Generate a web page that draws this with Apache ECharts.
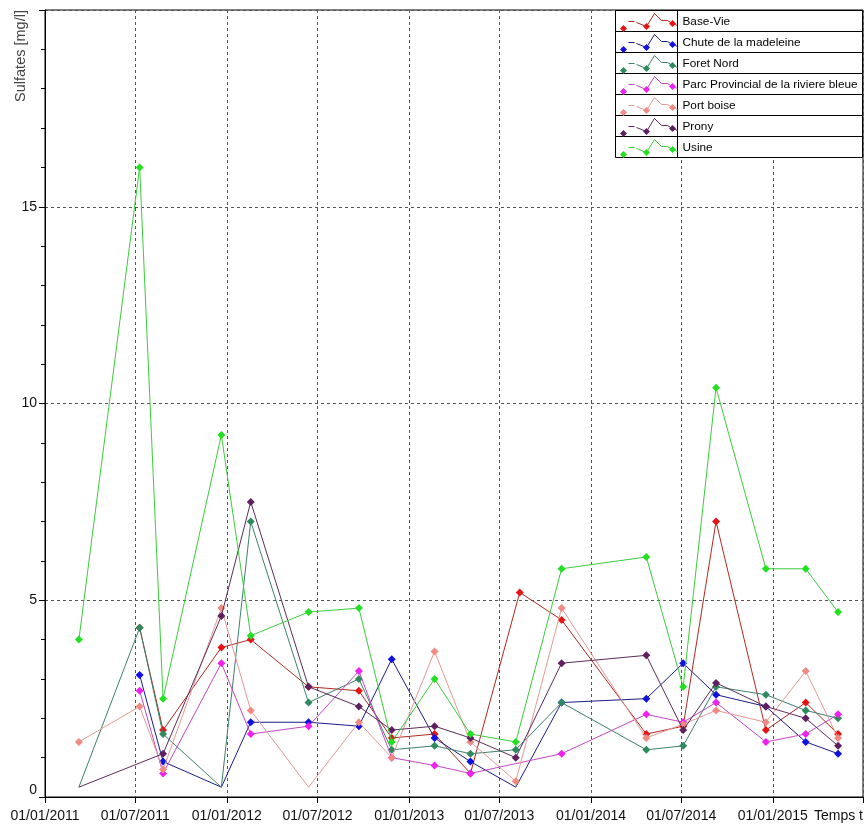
<!DOCTYPE html>
<html>
<head>
<meta charset="utf-8">
<title>Sulfates</title>
<script src="https://cdn.jsdelivr.net/npm/echarts@6/dist/echarts.min.js"></script>
<style>
  html, body { margin: 0; padding: 0; background: #fff; }
  #chart { width: 868px; height: 830px; }
</style>
</head>
<body>
<div id="chart"></div>
<script>
// Sampling dates (shared by all stations; a null value means no sample that day)
const dates = [
  '2011-03-10', '2011-07-10', '2011-08-26', '2011-12-21', '2012-02-18',
  '2012-06-13', '2012-09-22', '2012-11-27', '2013-02-21', '2013-05-04',
  '2013-08-03', '2013-08-11', '2013-11-03', '2014-04-22', '2014-07-05',
  '2014-09-09', '2014-12-18', '2015-03-08', '2015-05-12'
];

// Sulfate concentrations [mg/l] per station
const baseVie   = [null, 4.3, 1.7, 3.8, 4.0, 2.8, 2.7, 1.5, 1.6, 0.6, null, 5.2, 4.5, 1.6, 1.8, 7.0, 1.7, 2.4, 1.6];
const chute     = [null, 3.1, 0.9, 0.25, 1.9, 1.9, 1.8, 3.5, 1.5, 0.9, 0.25, null, 2.4, 2.5, 3.4, 2.6, 2.3, 1.4, 1.1];
const foretNord = [0.25, 4.3, 1.6, 0.25, 7.0, 2.4, 3.0, 1.2, 1.3, 1.1, 1.2, null, 2.4, 1.2, 1.3, 2.8, 2.6, 2.2, 2.0];
const parc      = [null, 2.7, 0.6, 3.4, 1.6, 1.8, 3.2, 1.0, 0.8, 0.6, null, null, 1.1, 2.1, 1.9, 2.4, 1.4, 1.6, 2.1];
const portBoise = [1.4, 2.3, 0.7, 4.8, 2.2, 0.25, 1.9, 1.0, 3.7, 1.4, 0.4, null, 4.8, 1.5, 1.85, 2.2, 1.9, 3.2, 1.5];
const prony     = [0.25, null, 1.1, 4.6, 7.5, 2.8, 2.3, 1.7, 1.8, 1.5, 1.0, null, 3.4, 3.6, 1.7, 2.9, 2.3, 2.0, 1.3];
const usine     = [4.0, 16.0, 2.5, 9.2, 4.1, 4.7, 4.8, 1.4, 3.0, 1.6, 1.4, null, 5.8, 6.1, 2.8, 10.4, 5.8, 5.8, 4.7];

const seriesNames = ['Base-Vie', 'Chute de la madeleine', 'Foret Nord',
  'Parc Provincial de la riviere bleue', 'Port boise', 'Prony', 'Usine'];
const seriesValues = [baseVie, chute, foretNord, parc, portBoise, prony, usine];

// Half-year ticks of the date axis
const xTicks = ['2011-01-01', '2011-07-01', '2012-01-01', '2012-07-01', '2013-01-01',
  '2013-07-01', '2014-01-01', '2014-07-01', '2015-01-01', '2015-07-01'];
const xAxisName = 'Temps t';
const yAxisName = 'Sulfates [mg/l]';

const lineColors   = ['#b02a20', '#1c1c8a', '#3f7f6c', '#c248c8', '#e49a94', '#5c2c5c', '#3ccc3c'];
const markerColors = ['#e81414', '#1010e0', '#2e8a5c', '#f020f0', '#f08a82', '#602060', '#20e020'];

const FONT = '"Liberation Sans", Arial, sans-serif';

// Axis text uses a narrow face when one is installed
function fontAvailable(name) {
  const ctx = document.createElement('canvas').getContext('2d');
  const sample = '01/07/2011 Temps t';
  ctx.font = '40px monospace';
  const w0 = ctx.measureText(sample).width;
  ctx.font = '40px "' + name + '", monospace';
  return ctx.measureText(sample).width !== w0;
}
const narrow = fontAvailable('Liberation Sans Narrow');
const AXIS_FONT = narrow ? '"Liberation Sans Narrow", "Liberation Sans", sans-serif' : FONT;
const AXIS_SIZE = narrow ? 16 : 14;
const TITLE_SIZE = narrow ? 17 : 14.5;

function ts(s) {
  const p = s.split('-').map(Number);
  return Date.UTC(p[0], p[1] - 1, p[2]);
}
function pad(n) { return n < 10 ? '0' + n : String(n); }
function fmtDate(v) {
  const d = new Date(v);
  return pad(d.getUTCDate()) + '/' + pad(d.getUTCMonth() + 1) + '/' + d.getUTCFullYear();
}

const tickValues = xTicks.map(ts);
const xMin = tickValues[0];
const xMax = tickValues[tickValues.length - 1];

const series = seriesNames.map(function (name, i) {
  const data = [];
  seriesValues[i].forEach(function (v, k) {
    if (v !== null) data.push([ts(dates[k]), v]);
  });
  return {
    name: name,
    type: 'line',
    data: data,
    symbol: function (val) { return val[1] < 0.3 ? 'none' : 'diamond'; },
    symbolSize: 8,
    lineStyle: { color: lineColors[i], width: 1 },
    itemStyle: { color: markerColors[i] },
    emphasis: { disabled: true },
    z: 2 + i
  };
});

// Legend drawn as a bordered table in the top-right corner of the plot
const legendLeft = 615.5, legendTop = 10.5, rowH = 21, iconW = 62, legendW = 247;
const legendEls = [{
  type: 'rect',
  shape: { x: legendLeft, y: legendTop, width: legendW, height: rowH * seriesNames.length },
  style: { fill: '#fff', stroke: '#000', lineWidth: 1 },
  z: 100
}, {
  type: 'line',
  shape: { x1: legendLeft + iconW, y1: legendTop, x2: legendLeft + iconW, y2: legendTop + rowH * seriesNames.length },
  style: { stroke: '#000', lineWidth: 1 },
  z: 101
}];
function diamond(cx, cy, r, color) {
  return {
    type: 'polygon',
    shape: { points: [[cx, cy - r], [cx + r, cy], [cx, cy + r], [cx - r, cy]] },
    style: { fill: color },
    z: 103
  };
}
seriesNames.forEach(function (name, i) {
  const top = legendTop + i * rowH;
  const L = legendLeft;
  if (i > 0) {
    legendEls.push({
      type: 'line',
      shape: { x1: L, y1: top, x2: L + legendW, y2: top },
      style: { stroke: '#000', lineWidth: 1 },
      z: 101
    });
  }
  legendEls.push({
    type: 'polyline',
    shape: { points: [[L + 13, top + 11], [L + 19, top + 11]] },
    style: { stroke: lineColors[i], lineWidth: 1, fill: null },
    z: 102
  });
  legendEls.push({
    type: 'polyline',
    shape: { points: [[L + 21, top + 12], [L + 31, top + 16], [L + 39, top + 3], [L + 46, top + 10],
      [L + 52, top + 10], [L + 57, top + 13], [L + 62, top + 15]] },
    style: { stroke: lineColors[i], lineWidth: 1, fill: null },
    z: 102
  });
  legendEls.push(diamond(L + 8, top + 18, 3.5, markerColors[i]));
  legendEls.push(diamond(L + 31, top + 16, 3.5, markerColors[i]));
  legendEls.push(diamond(L + 57, top + 13, 3.5, markerColors[i]));
  legendEls.push({
    type: 'text',
    x: L + iconW + 5,
    y: top + rowH / 2 + 0.5,
    style: { text: name, fill: '#000', font: '11.8px ' + FONT, align: 'left', verticalAlign: 'middle' },
    z: 103
  });
});

// Vertical y-axis title at the top left
const yTitle = {
  type: 'text',
  x: 21,
  y: 56,
  rotation: Math.PI / 2,
  style: { text: yAxisName, fill: '#444', font: TITLE_SIZE + 'px ' + AXIS_FONT, align: 'center', verticalAlign: 'middle' },
  z: 100
};

const option = {
  animation: false,
  backgroundColor: '#fff',
  grid: {
    left: 45, top: 10, right: 5, bottom: 33,
    show: true, borderColor: '#000', borderWidth: 1, backgroundColor: 'transparent'
  },
  xAxis: {
    type: 'value',
    min: xMin,
    max: xMax,
    axisLine: { show: true, lineStyle: { color: '#000', width: 1 } },
    axisTick: { show: true, customValues: tickValues, length: 6, lineStyle: { color: '#000' } },
    axisLabel: {
      customValues: tickValues,
      formatter: function (v) { return v === xMax ? xAxisName : fmtDate(v); },
      color: '#111',
      fontSize: AXIS_SIZE,
      fontFamily: AXIS_FONT,
      margin: 12,
      showMinLabel: true,
      showMaxLabel: true,
      alignMaxLabel: 'right',
      hideOverlap: false
    },
    splitLine: { show: true, lineStyle: { color: '#555', type: [3, 3], width: 1 } }
  },
  yAxis: {
    type: 'value',
    min: 0,
    max: 20,
    interval: 5,
    axisLine: { show: true, lineStyle: { color: '#000', width: 1 } },
    axisTick: { show: true, length: 6, lineStyle: { color: '#000' } },
    minorTick: { show: true, splitNumber: 5, length: 4, lineStyle: { color: '#000' } },
    axisLabel: {
      formatter: function (v) { return v === 20 ? '' : String(v); },
      color: '#111',
      fontSize: AXIS_SIZE,
      fontFamily: AXIS_FONT,
      margin: 8,
      verticalAlignMinLabel: 'bottom'
    },
    splitLine: { show: true, lineStyle: { color: '#555', type: [3, 3], width: 1 } }
  },
  tooltip: { show: false },
  graphic: { elements: legendEls.concat([yTitle]) },
  series: series
};

const chart = echarts.init(document.getElementById('chart'), null, { renderer: 'canvas' });
chart.setOption(option);
</script>
</body>
</html>
